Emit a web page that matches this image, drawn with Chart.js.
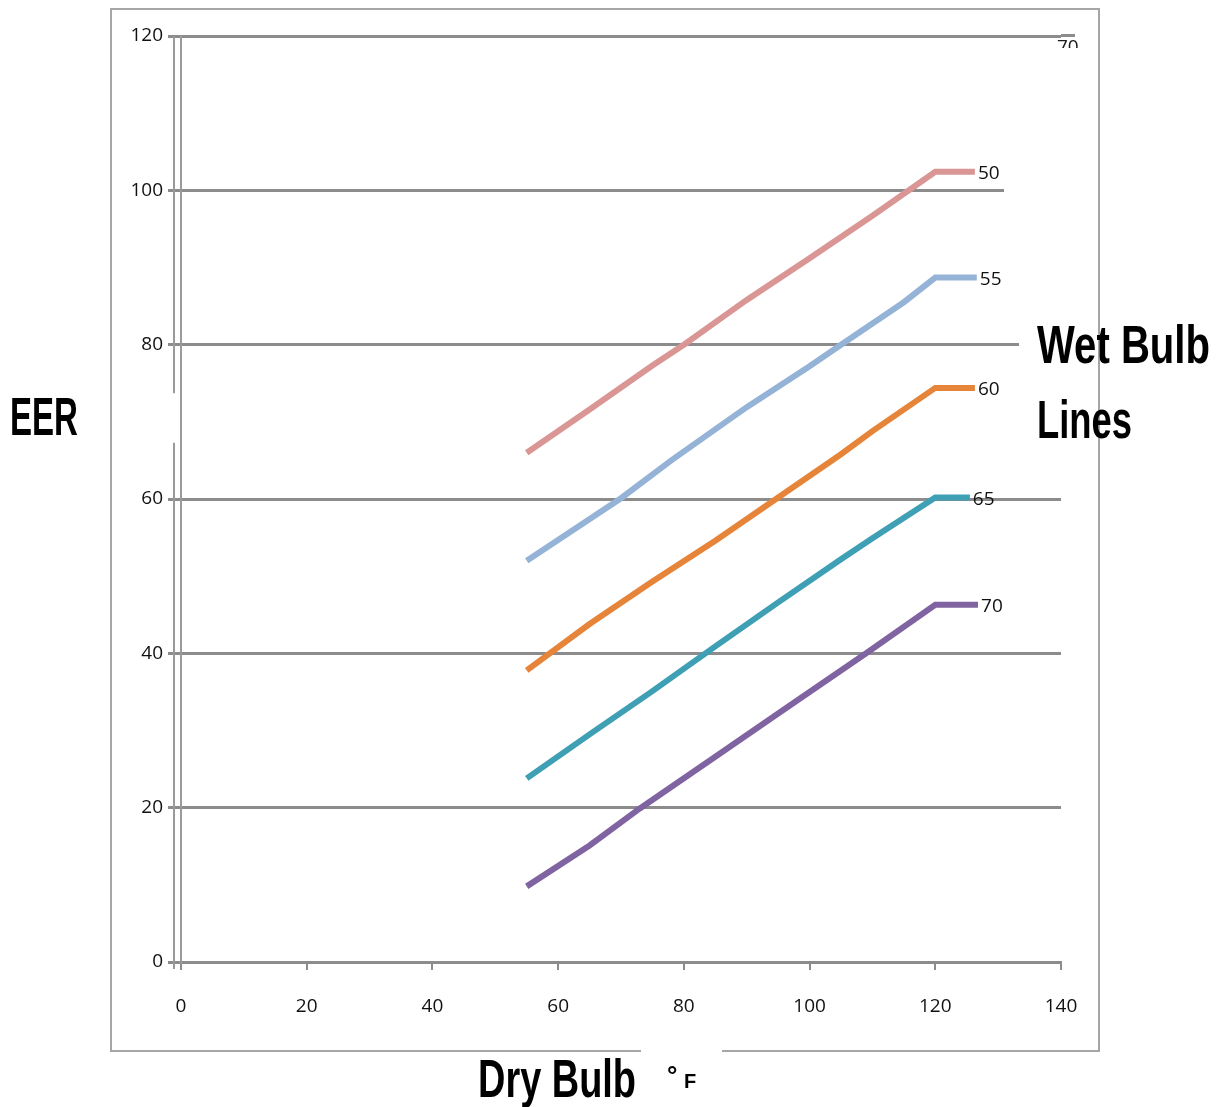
<!DOCTYPE html>
<html>
<head>
<meta charset="utf-8">
<title>EER vs Dry Bulb</title>
<script src="https://cdn.jsdelivr.net/npm/chart.js@4.4.1/dist/chart.umd.min.js"></script>
<style>
  html, body { margin: 0; padding: 0; background: #fff; }
  #wrap { position: relative; width: 1219px; height: 1107px; overflow: hidden; }
  #frame { position: absolute; left: 110px; top: 8px; width: 986px; height: 1040px; border: 2px solid #a6a6a6; }
  #gap { position: absolute; left: 641px; top: 1047px; width: 81px; height: 7px; background: #fff; }
  canvas { position: absolute; left: 0; top: 0; }
  .cover { position: absolute; background: #fff; }
  .big { position: absolute; font-family: "Liberation Sans Narrow", "Liberation Sans", sans-serif; font-weight: bold;
         font-size: 54px; line-height: 54px; white-space: nowrap; transform-origin: 0 0; color: #000; }
  .small { position: absolute; font-family: "Liberation Sans", sans-serif; font-weight: bold; font-size: 20px; line-height: 20px; color: #000; }
  #stray { position: absolute; left: 1057px; top: 39px; height: 9px; overflow: hidden; font-family: "Open Sans", sans-serif; font-size: 19px; line-height: 19px; color: #1a1a1a; }
</style>
</head>
<body>
<div id="wrap">
  <div id="frame"></div>
  <div id="gap"></div>
  <canvas id="myChart" width="1219" height="1107"></canvas>
  <!-- pasted-over patches from the original picture -->
  <div class="cover" style="left:1004px; top:186px; width:60px; height:9px;"></div>
  <div class="cover" style="left:1019px; top:340px; width:45px; height:9px;"></div>
  <div style="position:absolute; left:1061px; top:34px; width:14px; height:3px; background:#8c8c8c;"></div>
  <div class="big" id="eer" style="left:10px; top:389px;">EER</div>
  <div class="big" id="wet" style="left:1037px; top:317px;">Wet Bulb</div>
  <div class="big" id="lines" style="left:1037px; top:392px;">Lines</div>
  <div class="big" id="dry" style="left:478px; top:1051px;">Dry Bulb</div>
  <div class="small" style="left:667px; top:1062px; font-size:26px; line-height:26px;">°</div>
  <div class="small" style="left:684px; top:1071px;">F</div>
  <div id="stray"><div style="margin-top:-2px;">70</div></div>
</div>

<script>
// dry bulb (x) and EER (y) for each wet bulb line
var wetBulbNames = ['50', '55', '60', '65', '70'];
var wetBulbColors = ['#d99694', '#95b3d7', '#e6853a', '#3fa0b5', '#8064a2'];

var dry50 = [55, 65, 75, 80, 90, 100, 110, 120, 126.3];
var eer50 = [66.0, 71.6, 77.3, 80.0, 85.8, 91.2, 96.7, 102.4, 102.4];

var dry55 = [55, 70, 78, 90, 100, 105, 115, 120, 126.6];
var eer55 = [52.0, 60.1, 65.0, 71.9, 77.2, 80.0, 85.5, 88.7, 88.7];

var dry60 = [55, 65, 75, 85, 95, 105, 110, 120, 126.3];
var eer60 = [37.8, 43.8, 49.3, 54.6, 60.2, 65.8, 68.8, 74.4, 74.4];

var dry65 = [55, 65, 75, 85, 95, 105, 110, 120, 125.5];
var eer65 = [23.8, 29.5, 35.1, 40.9, 46.6, 52.2, 54.9, 60.2, 60.2];

var dry70 = [55, 65, 73, 85, 95, 109, 120, 126.8];
var eer70 = [9.8, 15.1, 19.9, 26.6, 32.2, 40.0, 46.3, 46.3];

var xTicks = [0, 20, 40, 60, 80, 100, 120, 140];
var yTicks = [0, 20, 40, 60, 80, 100, 120];

var allDry = [dry50, dry55, dry60, dry65, dry70];
var allEer = [eer50, eer55, eer60, eer65, eer70];

function toPoints(xs, ys) {
    return xs.map(function(x, i) { return {x: x, y: ys[i]}; });
}

var datasets = [];
for (var i = 0; i < wetBulbNames.length; i++) {
    datasets.push({
        label: wetBulbNames[i],
        data: toPoints(allDry[i], allEer[i]),
        borderColor: wetBulbColors[i],
        borderWidth: 6,
        pointRadius: 0,
        tension: 0
    });
}
// the white dotted texture on the sloped part of each line
for (var j = 0; j < wetBulbNames.length; j++) {
    (function(n) {
        datasets.push({
            label: 'tex' + n,
            data: toPoints(allDry[n], allEer[n]),
            borderColor: 'rgba(255,255,255,0.75)',
            borderWidth: 1.3,
            borderDash: [1.2, 2],
            pointRadius: 0,
            tension: 0,
            segment: {
                borderColor: function(c) { return c.p1DataIndex === allDry[n].length - 1 ? 'rgba(0,0,0,0)' : undefined; }
            }
        });
    })(j);
}

var endLabels = {
    id: 'endLabels',
    afterDatasetsDraw: function(chart) {
        var ctx = chart.ctx;
        ctx.save();
        ctx.font = '19px "Open Sans"';
        ctx.fillStyle = '#111';
        ctx.textBaseline = 'middle';
        ctx.textAlign = 'left';
        for (var i = 0; i < wetBulbNames.length; i++) {
            var meta = chart.getDatasetMeta(i);
            var pt = meta.data[meta.data.length - 1];
            ctx.fillText(wetBulbNames[i], pt.x + 3, pt.y + 2);
        }
        ctx.restore();
    },
    afterDraw: function(chart) {
        // second vertical axis line just left of the real one (broken where the EER label was pasted)
        var a = chart.chartArea, ctx = chart.ctx, y = chart.scales.y;
        var gapTop = y.getPixelForValue(73.7), gapBottom = y.getPixelForValue(67.3);
        ctx.save();
        ctx.strokeStyle = '#9a9a9a';
        ctx.lineWidth = 2;
        ctx.beginPath();
        ctx.moveTo(a.left - 7, a.top);
        ctx.lineTo(a.left - 7, gapTop);
        ctx.moveTo(a.left - 7, gapBottom);
        ctx.lineTo(a.left - 7, a.bottom + 7);
        ctx.stroke();
        ctx.restore();
    }
};

var tickFont = {family: '"Open Sans"', size: 19};

var chart = new Chart(document.getElementById('myChart'), {
    type: 'line',
    data: {datasets: datasets},
    plugins: [endLabels],
    options: {
        responsive: false,
        animation: false,
        layout: {padding: {left: 0, right: 158, top: 36, bottom: 0}},
        plugins: {legend: {display: false}, tooltip: {enabled: false}},
        scales: {
            x: {
                type: 'linear',
                min: 0, max: 140,
                afterBuildTicks: function(s) { s.ticks = xTicks.map(function(v) { return {value: v}; }); },
                afterFit: function(s) { s.height = 145; },
                ticks: {font: tickFont, color: '#111', padding: 25, maxRotation: 0},
                grid: {drawOnChartArea: false, drawTicks: true, tickLength: 8, color: '#8c8c8c', lineWidth: 2},
                border: {display: true, color: '#8c8c8c', width: 3}
            },
            y: {
                min: 0, max: 120,
                afterBuildTicks: function(s) { s.ticks = yTicks.map(function(v) { return {value: v}; }); },
                afterFit: function(s) { s.width = 181; },
                ticks: {font: tickFont, color: '#111', padding: 5},
                grid: {color: '#8c8c8c', lineWidth: 3, tickLength: 13},
                border: {display: true, color: '#9a9a9a', width: 2}
            }
        }
    }
});

function fitWidth(id, w) {
    var el = document.getElementById(id);
    el.style.transform = 'none';
    var natural = el.getBoundingClientRect().width;
    el.style.transform = 'scaleX(' + (w / natural) + ')';
}
function fitAll() {
    fitWidth('eer', 68);
    fitWidth('wet', 173);
    fitWidth('lines', 95);
    fitWidth('dry', 158);
}
fitAll();
if (document.fonts && document.fonts.ready) { document.fonts.ready.then(fitAll); }
</script>
</body>
</html>
